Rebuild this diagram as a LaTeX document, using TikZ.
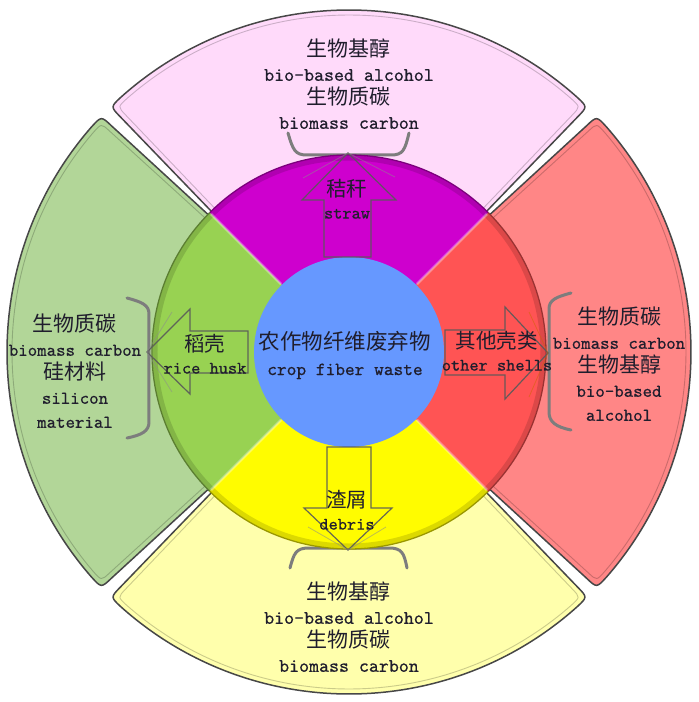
\documentclass[tikz,border=0pt]{standalone}
\usepackage{fontspec}
\newfontfamily\cjk{Noto Sans CJK SC}
\newfontfamily\enfont{lmmono10-regular}[Extension=.otf, FakeBold=0.6]
\definecolor{pinkO}{RGB}{255,218,250}
\definecolor{purR}{RGB}{206,0,206}
\definecolor{greenO}{RGB}{178,214,152}
\definecolor{greenR}{RGB}{152,210,82}
\definecolor{redO}{RGB}{255,134,134}
\definecolor{redR}{RGB}{255,84,84}
\definecolor{yelO}{RGB}{255,255,172}
\definecolor{yelR}{RGB}{255,252,0}
\definecolor{blueC}{RGB}{102,152,255}
\definecolor{txtC}{RGB}{32,30,45}
\definecolor{brkC}{RGB}{125,125,125}
\newcommand\zh[1]{{\cjk\fontsize{21}{24}\selectfont #1}}
\newcommand\en[1]{{\enfont\fontsize{19}{24}\selectfont #1}}
\newcommand\enm[1]{{\enfont\fontsize{18}{24}\selectfont #1}}
\newcommand\zhs[1]{{\cjk\fontsize{20.5}{22}\selectfont #1}}
\newcommand\ens[1]{{\enfont\fontsize{17.5}{22}\selectfont #1}}
% mid angle, half outer angle, half inner angle, colour
\newcommand\OuterSeg[4]{%
  \fill[#4, draw=black!72, line width=1.5pt]
    ({#1+#3}:185pt) -- ({#1+#2}:328pt) .. controls ({#1+#2}:342pt) .. ({#1+#2-2.35}:342pt)
    arc[start angle={#1+#2-2.35}, end angle={#1-#2+2.35}, radius=342pt]
    .. controls ({#1-#2}:342pt) .. ({#1-#2}:328pt) -- ({#1-#3}:185pt)
    arc[start angle={#1-#3}, end angle={#1+#3}, radius=185pt] -- cycle;
  \draw[#4!55!black, opacity=.45, line width=.9pt]
    ({#1+#3-1.4}:185pt) -- ({#1+#2-0.9}:326pt) .. controls ({#1+#2-0.9}:337pt) .. ({#1+#2-2.9}:337pt)
    arc[start angle={#1+#2-2.9}, end angle={#1-#2+2.9}, radius=337pt]
    .. controls ({#1-#2+0.9}:337pt) .. ({#1-#2+0.9}:326pt) -- ({#1-#3+1.4}:185pt);
}
% mid angle, colour
\newcommand\RingSeg[2]{%
  \fill[#2] (0,0) -- ({#1+45}:197pt) arc[start angle={#1+45}, end angle={#1-45}, radius=197pt] -- cycle;
  \draw[#2!55!black, opacity=.3, line width=5pt] ({#1+45}:194pt) arc[start angle={#1+45}, end angle={#1-45}, radius=194pt];
  \draw[#2!60!black, line width=1.3pt] ({#1+45}:197pt) arc[start angle={#1+45}, end angle={#1-45}, radius=197pt];
}
\tikzset{
  txt/.style={align=center, inner sep=0pt, text=txtC, font=\fontsize{19}{24}\selectfont},
  albl/.style={align=center, inner sep=0pt, text=txtC, font=\fontsize{17.5}{22}\selectfont},
  blockarrow/.style={draw=black!65, opacity=.9, line width=1.2pt, line join=miter},
  ghost/.style={draw=black!45, opacity=.55, line width=.8pt},
  brk/.style={draw=brkC, line width=3pt, line cap=round},
}
\begin{document}
\begin{tikzpicture}[x=1pt, y=1pt]
\useasboundingbox (-349,-350) rectangle (350,352);
\fill[white] (-349,-350) rectangle (350,352);

% outer segments
\OuterSeg{90}{44.2}{44.4}{pinkO}
\OuterSeg{270}{44.2}{44.4}{yelO}
\OuterSeg{180}{43.6}{44.4}{greenO}
\OuterSeg{0}{43.6}{44.4}{redO}

% brackets
\draw[brk] (-61,219) .. controls (-56,202) and (-54,197) .. (-42,197) -- (42,197) .. controls (54,197) and (56,202) .. (60,219);
\draw[brk] (-59,-216) .. controls (-55,-201) and (-53,-196) .. (-40,-196) -- (40,-196) .. controls (53,-196) and (55,-201) .. (58,-216);
\draw[brk] (-222,54) .. controls (-207,50) and (-200,47) .. (-200,38) -- (-200,-70) .. controls (-200,-79) and (-207,-83) .. (-222,-86);
\draw[brk] (222,59) .. controls (207,55) and (200,52) .. (200,43) -- (200,-60) .. controls (200,-70) and (207,-75) .. (222,-78);

% ring
\RingSeg{90}{purR}
\RingSeg{180}{greenR}
\RingSeg{270}{yelR}
\RingSeg{0}{redR}
\foreach \a in {45,135,225,315}
  \draw[white, opacity=.35, line width=2.5pt] (\a:96pt) -- (\a:195pt);

% centre
\fill[blueC] (0,0) circle[radius=95pt];

% block arrows
\draw[blockarrow] (-25,95) -- (-25,152) -- (-47,152) -- (-1,199) -- (47,152) -- (22,152) -- (22,95) -- cycle;
\draw[ghost] (-46,174) -- (-1,199) -- (46,175);
\draw[blockarrow] (-101,21) -- (-159,21) -- (-159,43) -- (-202,0) -- (-159,-42) -- (-159,-21) -- (-101,-21) -- cycle;
\draw[ghost] (-177,40) -- (-202,0) -- (-177,-40);
\draw[blockarrow] (96,22) -- (156,22) -- (156,45) -- (199,-1) -- (156,-47) -- (156,-23) -- (96,-23) -- cycle;
\draw[draw=orange!80!black, opacity=.5, line width=.8pt] (180,40) -- (199,-1) -- (180,-45);
\draw[blockarrow] (-22,-95) -- (-22,-156) -- (-45,-156) -- (-1,-198) -- (43,-156) -- (22,-156) -- (22,-95) -- cycle;
\draw[ghost] (-41,-175) -- (-1,-198) -- (37,-175);

% texts
\node[txt] (topT) at (0,268) {\zh{生物基醇}\\\en{bio-based alcohol}\\\zh{生物质碳}\\\en{biomass carbon}};
\node[txt] (botT) at (0,-275) {\zh{生物基醇}\\\en{bio-based alcohol}\\\zh{生物质碳}\\\en{biomass carbon}};
\node[txt, font=\fontsize{18}{24}\selectfont] (leftT) at (-274,-19) {\zh{生物质碳}\\\enm{biomass carbon}\\\zh{硅材料}\\\enm{silicon}\\\enm{material}};
\node[txt, font=\fontsize{18}{24}\selectfont] (rightT) at (270,-12) {\zh{生物质碳}\\\enm{biomass carbon}\\\zh{生物基醇}\\\enm{bio-based}\\\enm{alcohol}};
\node[txt, font=\fontsize{18.5}{26}\selectfont] (centreT) at (-4,-3) {{\cjk\fontsize{21.5}{26}\selectfont 农作物纤维废弃物}\\{\enfont\fontsize{18.5}{26}\selectfont crop fiber waste}};
\node[albl] (strawT) at (-2,153) {\zhs{秸秆}\\\ens{straw}};
\node[albl] (huskT) at (-144,-2) {\zhs{稻壳}\\\ens{rice husk}};
\node[albl] (shellT) at (148,1) {\zhs{其他壳类}\\\ens{other shells}};
\node[albl] (debrisT) at (-2,-158) {\zhs{渣屑}\\\ens{debris}};
\end{tikzpicture}
\end{document}
